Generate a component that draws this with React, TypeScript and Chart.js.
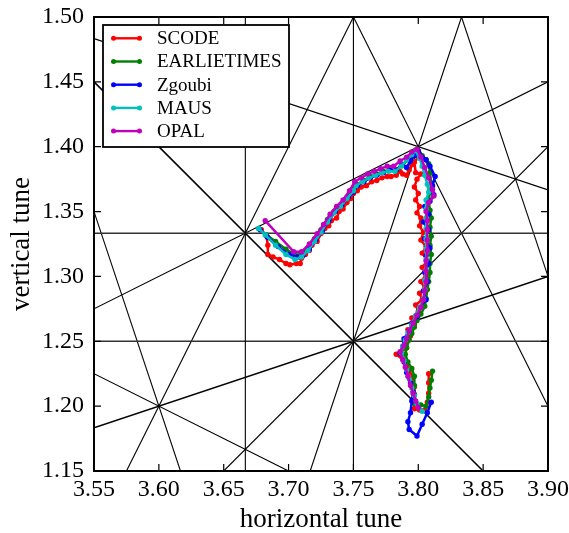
import React, { useEffect, useRef } from "react";
import { Chart, registerables } from "chart.js";

Chart.register(...registerables);

const xTicks = [3.55, 3.6, 3.65, 3.7, 3.75, 3.8, 3.85, 3.9];
const yTicks = [1.15, 1.2, 1.25, 1.3, 1.35, 1.4, 1.45, 1.5];
const xTitle = "horizontal tune";
const yTitle = "vertical tune";

// resonance lines: m*Qx + n*Qy = p
const resonances: [number, number, number][] = [
  [3, 0, 11], [4, 0, 15], [0, 3, 4], [0, 4, 5],
  [1, 1, 5], [2, 1, 9], [3, -1, 10], [1, -2, 1], [1, 3, 8],
  [1, -3, 0], [2, -2, 5], [2, -1, 6], [1, 2, 6], [3, 1, 12], [3, 1, 13],
];

const seriesNames = ["SCODE", "EARLIETIMES", "Zgoubi", "MAUS", "OPAL"];
const seriesColors = ["#ff0000", "#008000", "#0000ff", "#00bfbf", "#bf00bf"];

const scode: [number, number][] = [
  [3.679, 1.336], [3.683, 1.331], [3.684, 1.324], [3.684, 1.317], [3.688, 1.315], [3.693, 1.313],
  [3.698, 1.310], [3.701, 1.309], [3.706, 1.310], [3.709, 1.310], [3.710, 1.314], [3.713, 1.317],
  [3.716, 1.320], [3.718, 1.324], [3.722, 1.327], [3.725, 1.333], [3.728, 1.337], [3.731, 1.339],
  [3.733, 1.343], [3.737, 1.345], [3.739, 1.350], [3.742, 1.352], [3.745, 1.357], [3.748, 1.360],
  [3.750, 1.364], [3.753, 1.366], [3.756, 1.369], [3.760, 1.370], [3.764, 1.373], [3.768, 1.374],
  [3.772, 1.376], [3.776, 1.377], [3.779, 1.377], [3.783, 1.378], [3.786, 1.381], [3.788, 1.379],
  [3.791, 1.378], [3.793, 1.382], [3.795, 1.386], [3.793, 1.390], [3.797, 1.395], [3.799, 1.397],
  [3.800, 1.392], [3.797, 1.388], [3.798, 1.380], [3.802, 1.379], [3.799, 1.375], [3.797, 1.369],
  [3.800, 1.364], [3.798, 1.359], [3.801, 1.354], [3.799, 1.349], [3.802, 1.345], [3.801, 1.339],
  [3.804, 1.334], [3.802, 1.328], [3.806, 1.323], [3.803, 1.318], [3.807, 1.312], [3.803, 1.307],
  [3.806, 1.301], [3.802, 1.296], [3.805, 1.291], [3.801, 1.287], [3.803, 1.282], [3.798, 1.278],
  [3.800, 1.273], [3.795, 1.268], [3.797, 1.263], [3.792, 1.259], [3.794, 1.254], [3.790, 1.250],
  [3.791, 1.245], [3.786, 1.241], [3.783, 1.240], [3.788, 1.236], [3.791, 1.232], [3.793, 1.227],
  [3.796, 1.222], [3.797, 1.215], [3.797, 1.209], [3.797, 1.203], [3.797, 1.198], [3.801, 1.197],
  [3.805, 1.197], [3.807, 1.203], [3.808, 1.210], [3.808, 1.218], [3.808, 1.225],
];

const earlietimes: [number, number][] = [
  [3.677, 1.337], [3.683, 1.332], [3.690, 1.327], [3.698, 1.321], [3.706, 1.316], [3.710, 1.318],
  [3.715, 1.322], [3.720, 1.329], [3.725, 1.336], [3.730, 1.344], [3.735, 1.350], [3.740, 1.355],
  [3.745, 1.361], [3.750, 1.367], [3.753, 1.371], [3.758, 1.374], [3.763, 1.377], [3.768, 1.379],
  [3.773, 1.381], [3.778, 1.382], [3.783, 1.382], [3.788, 1.386], [3.792, 1.390], [3.796, 1.395],
  [3.799, 1.398], [3.803, 1.393], [3.806, 1.390], [3.808, 1.387], [3.809, 1.380], [3.810, 1.372],
  [3.809, 1.365], [3.808, 1.358], [3.809, 1.351], [3.810, 1.345], [3.809, 1.338], [3.810, 1.331],
  [3.809, 1.324], [3.810, 1.317], [3.809, 1.310], [3.809, 1.303], [3.808, 1.296], [3.807, 1.290],
  [3.806, 1.283], [3.805, 1.277], [3.802, 1.271], [3.799, 1.266], [3.797, 1.261], [3.795, 1.256],
  [3.793, 1.251], [3.791, 1.245], [3.790, 1.240], [3.792, 1.234], [3.795, 1.229], [3.797, 1.223],
  [3.797, 1.216], [3.797, 1.209], [3.797, 1.202], [3.802, 1.201], [3.806, 1.200], [3.808, 1.207],
  [3.809, 1.214], [3.810, 1.220], [3.811, 1.227],
];

const zgoubi: [number, number][] = [
  [3.678, 1.336], [3.684, 1.330], [3.692, 1.323], [3.700, 1.317], [3.707, 1.315], [3.711, 1.316],
  [3.716, 1.321], [3.721, 1.328], [3.726, 1.335], [3.731, 1.343], [3.736, 1.350], [3.741, 1.355],
  [3.746, 1.361], [3.750, 1.365], [3.753, 1.370], [3.758, 1.373], [3.763, 1.376], [3.768, 1.378],
  [3.773, 1.380], [3.778, 1.382], [3.783, 1.382], [3.787, 1.386], [3.791, 1.384], [3.794, 1.389],
  [3.797, 1.393], [3.800, 1.397], [3.803, 1.392], [3.806, 1.390], [3.809, 1.385], [3.813, 1.377],
  [3.811, 1.370], [3.812, 1.363], [3.809, 1.358], [3.805, 1.354], [3.808, 1.348], [3.804, 1.342],
  [3.808, 1.336], [3.805, 1.329], [3.809, 1.322], [3.806, 1.316], [3.808, 1.310], [3.805, 1.303],
  [3.807, 1.296], [3.804, 1.289], [3.806, 1.282], [3.801, 1.276], [3.799, 1.269], [3.795, 1.264],
  [3.793, 1.258], [3.789, 1.252], [3.788, 1.246], [3.786, 1.241], [3.789, 1.234], [3.791, 1.226],
  [3.794, 1.218], [3.796, 1.211], [3.795, 1.204], [3.794, 1.195], [3.792, 1.188], [3.793, 1.182],
  [3.799, 1.177], [3.803, 1.186], [3.807, 1.195], [3.810, 1.203],
];

const maus: [number, number][] = [
  [3.677, 1.337], [3.682, 1.332], [3.690, 1.324], [3.698, 1.317], [3.705, 1.313], [3.710, 1.315],
  [3.715, 1.320], [3.720, 1.327], [3.725, 1.334], [3.730, 1.342], [3.735, 1.349], [3.740, 1.354],
  [3.745, 1.360], [3.750, 1.366], [3.752, 1.370], [3.757, 1.373], [3.762, 1.376], [3.767, 1.378],
  [3.772, 1.380], [3.777, 1.381], [3.782, 1.381], [3.787, 1.385], [3.791, 1.390], [3.795, 1.394],
  [3.798, 1.397], [3.801, 1.391], [3.803, 1.385], [3.805, 1.378], [3.807, 1.371], [3.808, 1.365],
  [3.806, 1.359], [3.806, 1.352], [3.806, 1.345], [3.806, 1.337], [3.806, 1.329], [3.806, 1.321],
  [3.806, 1.313], [3.806, 1.305], [3.805, 1.297], [3.805, 1.290], [3.804, 1.283], [3.801, 1.276],
  [3.798, 1.270], [3.795, 1.263], [3.792, 1.257], [3.790, 1.251], [3.788, 1.246], [3.787, 1.241],
  [3.789, 1.235], [3.791, 1.228], [3.793, 1.221], [3.795, 1.214], [3.797, 1.208], [3.799, 1.202],
  [3.803, 1.196],
];

const opal: [number, number][] = [
  [3.682, 1.343], [3.704, 1.319], [3.710, 1.319], [3.716, 1.325], [3.722, 1.333], [3.727, 1.340],
  [3.732, 1.348], [3.737, 1.354], [3.742, 1.359], [3.747, 1.366], [3.751, 1.373], [3.756, 1.376],
  [3.761, 1.379], [3.766, 1.381], [3.771, 1.383], [3.776, 1.385], [3.781, 1.385], [3.786, 1.389],
  [3.791, 1.392], [3.795, 1.396], [3.799, 1.398], [3.802, 1.392], [3.805, 1.384], [3.808, 1.376],
  [3.811, 1.367], [3.812, 1.362], [3.808, 1.357], [3.806, 1.350], [3.807, 1.343], [3.807, 1.336],
  [3.807, 1.328], [3.807, 1.320], [3.806, 1.312], [3.806, 1.304], [3.806, 1.296], [3.805, 1.289],
  [3.804, 1.282], [3.802, 1.276], [3.799, 1.270], [3.796, 1.264], [3.793, 1.258], [3.791, 1.252],
  [3.789, 1.247], [3.786, 1.242], [3.788, 1.236], [3.790, 1.230], [3.792, 1.223], [3.794, 1.216],
  [3.796, 1.210], [3.798, 1.204], [3.800, 1.199],
];

const seriesData = [scode, earlietimes, zgoubi, maus, opal];

const X_MIN = xTicks[0];
const X_MAX = xTicks[xTicks.length - 1];
const Y_MIN = yTicks[0];
const Y_MAX = yTicks[yTicks.length - 1];

function clipLine(m: number, n: number, p: number) {
  const pts: { x: number; y: number }[] = [];
  const eps = 1e-9;
  if (n !== 0) {
    for (const x of [X_MIN, X_MAX]) {
      const y = (p - m * x) / n;
      if (y >= Y_MIN - eps && y <= Y_MAX + eps) pts.push({ x, y });
    }
  }
  if (m !== 0) {
    for (const y of [Y_MIN, Y_MAX]) {
      const x = (p - n * y) / m;
      if (x >= X_MIN - eps && x <= X_MAX + eps) pts.push({ x, y });
    }
  }
  const uniq: { x: number; y: number }[] = [];
  for (const q of pts) {
    if (!uniq.some((u) => Math.abs(u.x - q.x) < 1e-7 && Math.abs(u.y - q.y) < 1e-7)) uniq.push(q);
  }
  uniq.sort((a, b) => a.x - b.x || a.y - b.y);
  return uniq.length >= 2 ? [uniq[0], uniq[uniq.length - 1]] : [];
}

function resonanceWidth(m: number, n: number) {
  if (m === 0) return 1.4;
  if ((m === 1 && n === 1) || (m === 1 && n === -3)) return 1.6;
  return 1.1;
}

const FONT = "'Liberation Serif', 'Times New Roman', serif";

const framePlugin = {
  id: "frameAndLegend",
  afterDatasetsDraw(chart: any) {
    const { ctx, chartArea, scales } = chart;
    const { left, right, top, bottom } = chartArea;
    ctx.save();
    // inward ticks
    ctx.strokeStyle = "#000";
    ctx.lineWidth = 1.2;
    const tl = 7;
    for (const v of xTicks) {
      const px = scales.x.getPixelForValue(v);
      ctx.beginPath();
      ctx.moveTo(px, bottom);
      ctx.lineTo(px, bottom - tl);
      ctx.moveTo(px, top);
      ctx.lineTo(px, top + tl);
      ctx.stroke();
    }
    for (const v of yTicks) {
      const py = scales.y.getPixelForValue(v);
      ctx.beginPath();
      ctx.moveTo(left, py);
      ctx.lineTo(left + tl, py);
      ctx.moveTo(right, py);
      ctx.lineTo(right - tl, py);
      ctx.stroke();
    }
    // legend
    const bx = left + 9;
    const by = top + 8;
    const bw = 186;
    const bh = 122;
    ctx.fillStyle = "#fff";
    ctx.fillRect(bx, by, bw, bh);
    ctx.lineWidth = 1.8;
    ctx.strokeStyle = "#000";
    ctx.strokeRect(bx, by, bw, bh);
    ctx.font = `19px ${FONT}`;
    ctx.textBaseline = "middle";
    ctx.textAlign = "left";
    seriesNames.forEach((name, i) => {
      const y = by + 13.3 + i * 23.2;
      const c = seriesColors[i];
      ctx.strokeStyle = c;
      ctx.lineWidth = 2.4;
      ctx.beginPath();
      ctx.moveTo(bx + 10.5, y);
      ctx.lineTo(bx + 36.5, y);
      ctx.stroke();
      ctx.fillStyle = c;
      for (const ex of [bx + 10.5, bx + 36.5]) {
        ctx.beginPath();
        ctx.arc(ex, y, 2.5, 0, Math.PI * 2);
        ctx.fill();
      }
      ctx.fillStyle = "#000";
      ctx.fillText(name, bx + 54, y + 1);
    });
    // frame
    ctx.lineWidth = 2;
    ctx.strokeStyle = "#000";
    ctx.strokeRect(left, top, right - left, bottom - top);
    ctx.restore();
  },
};

export default function App() {
  const canvasRef = useRef<HTMLCanvasElement | null>(null);

  useEffect(() => {
    if (!canvasRef.current) return;
    const seriesSets = seriesData.map((s, i) => ({
      type: "scatter" as const,
      label: seriesNames[i],
      data: s.map(([x, y]) => ({ x, y })),
      showLine: true,
      borderColor: seriesColors[i],
      backgroundColor: seriesColors[i],
      pointBackgroundColor: seriesColors[i],
      pointBorderColor: seriesColors[i],
      borderWidth: 2.5,
      pointRadius: 2.7,
      pointBorderWidth: 0,
      pointHoverRadius: 2.7,
      order: 5 - i,
    }));
    const resonanceSets = resonances.map(([m, n, p]) => ({
      type: "scatter" as const,
      label: `${m}Qx+${n}Qy=${p}`,
      data: clipLine(m, n, p),
      showLine: true,
      borderColor: m === 0 ? "#333" : "#000",
      borderWidth: resonanceWidth(m, n),
      pointRadius: 0,
      order: 10,
    }));

    const chart = new Chart(canvasRef.current, {
      type: "scatter",
      data: { datasets: [...seriesSets, ...resonanceSets] as any },
      options: {
        animation: false,
        responsive: false,
        devicePixelRatio: 1,
        events: [],
        layout: { padding: { left: 0, right: 21, top: 17, bottom: 0 } },
        plugins: { legend: { display: false }, tooltip: { enabled: false } },
        scales: {
          x: {
            type: "linear",
            min: X_MIN,
            max: X_MAX,
            afterBuildTicks: (s: any) => {
              s.ticks = xTicks.map((v) => ({ value: v }));
            },
            afterFit: (s: any) => {
              s.height = 62;
              s.paddingLeft = 0;
              s.paddingRight = 0;
            },
            grid: { display: false, drawTicks: false },
            border: { display: false },
            ticks: {
              padding: 4,
              color: "#000",
              maxRotation: 0,
              autoSkip: false,
              font: { family: FONT, size: 24 },
              callback: (v: any) => Number(v).toFixed(2),
            },
            title: {
              display: true,
              text: xTitle,
              color: "#000",
              font: { family: FONT, size: 27, lineHeight: 1 },
              padding: { top: 0, bottom: 0 },
            },
          },
          y: {
            type: "linear",
            min: Y_MIN,
            max: Y_MAX,
            afterBuildTicks: (s: any) => {
              s.ticks = yTicks.map((v) => ({ value: v }));
            },
            afterFit: (s: any) => {
              s.width = 94;
              s.paddingTop = 0;
              s.paddingBottom = 0;
            },
            grid: { display: false, drawTicks: false },
            border: { display: false },
            ticks: {
              padding: 10,
              color: "#000",
              autoSkip: false,
              font: { family: FONT, size: 24 },
              callback: (v: any) => Number(v).toFixed(2),
            },
            title: {
              display: true,
              text: yTitle,
              color: "#000",
              font: { family: FONT, size: 27, lineHeight: 1 },
              padding: { top: 8, bottom: 0 },
            },
          },
        },
      } as any,
      plugins: [framePlugin],
    });
    return () => chart.destroy();
  }, []);

  return (
    <div style={{ position: "fixed", left: 0, top: 0, width: 569, height: 533, background: "#fff" }}>
      <canvas ref={canvasRef} width={569} height={533} style={{ display: "block" }} />
    </div>
  );
}
